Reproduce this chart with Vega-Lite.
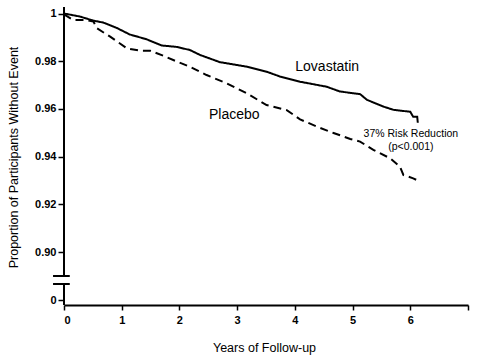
{
  "$schema": "https://vega.github.io/schema/vega-lite/v6.json",
  "width": 404,
  "height": 298,
  "autosize": "none",
  "padding": {"left": 64, "top": 7, "right": 12, "bottom": 56},
  "background": "white",
  "config": {
    "view": {"stroke": null},
    "font": "Liberation Sans",
    "axis": {"grid": false, "domainColor": "black", "tickColor": "black", "labelColor": "black", "titleColor": "black"}
  },
  "data": {"values": [{}]},
  "datasets": {
    "km": [
      {"group": "Lovastatin", "t": 0, "v": 1.0},
      {"group": "Lovastatin", "t": 0.28, "v": 0.9987},
      {"group": "Lovastatin", "t": 0.51, "v": 0.997},
      {"group": "Lovastatin", "t": 0.68, "v": 0.9962},
      {"group": "Lovastatin", "t": 0.91, "v": 0.994},
      {"group": "Lovastatin", "t": 1.14, "v": 0.9912},
      {"group": "Lovastatin", "t": 1.43, "v": 0.9892},
      {"group": "Lovastatin", "t": 1.69, "v": 0.9866},
      {"group": "Lovastatin", "t": 1.95, "v": 0.986},
      {"group": "Lovastatin", "t": 2.18, "v": 0.9847},
      {"group": "Lovastatin", "t": 2.36, "v": 0.9826},
      {"group": "Lovastatin", "t": 2.7, "v": 0.9796},
      {"group": "Lovastatin", "t": 3.17, "v": 0.9777},
      {"group": "Lovastatin", "t": 3.51, "v": 0.9756},
      {"group": "Lovastatin", "t": 3.74, "v": 0.9736},
      {"group": "Lovastatin", "t": 4.09, "v": 0.9714},
      {"group": "Lovastatin", "t": 4.55, "v": 0.9693},
      {"group": "Lovastatin", "t": 4.78, "v": 0.9673},
      {"group": "Lovastatin", "t": 5.13, "v": 0.9662},
      {"group": "Lovastatin", "t": 5.25, "v": 0.9638},
      {"group": "Lovastatin", "t": 5.53, "v": 0.961},
      {"group": "Lovastatin", "t": 5.71, "v": 0.9596},
      {"group": "Lovastatin", "t": 6.0, "v": 0.9588},
      {"group": "Lovastatin", "t": 6.05, "v": 0.9567},
      {"group": "Lovastatin", "t": 6.12, "v": 0.9567},
      {"group": "Lovastatin", "t": 6.13, "v": 0.9542},
      {"group": "Placebo", "t": 0, "v": 0.9996},
      {"group": "Placebo", "t": 0.16, "v": 0.9973},
      {"group": "Placebo", "t": 0.39, "v": 0.9973},
      {"group": "Placebo", "t": 0.51, "v": 0.9966},
      {"group": "Placebo", "t": 0.57, "v": 0.9938},
      {"group": "Placebo", "t": 0.8, "v": 0.9903},
      {"group": "Placebo", "t": 1.09, "v": 0.9854},
      {"group": "Placebo", "t": 1.32, "v": 0.9844},
      {"group": "Placebo", "t": 1.49, "v": 0.9844},
      {"group": "Placebo", "t": 1.72, "v": 0.9823},
      {"group": "Placebo", "t": 1.96, "v": 0.9798},
      {"group": "Placebo", "t": 2.18, "v": 0.9777},
      {"group": "Placebo", "t": 2.47, "v": 0.9742},
      {"group": "Placebo", "t": 2.82, "v": 0.9707},
      {"group": "Placebo", "t": 3.17, "v": 0.9665},
      {"group": "Placebo", "t": 3.51, "v": 0.9616},
      {"group": "Placebo", "t": 3.86, "v": 0.9595},
      {"group": "Placebo", "t": 4.09, "v": 0.9556},
      {"group": "Placebo", "t": 4.44, "v": 0.952},
      {"group": "Placebo", "t": 4.67, "v": 0.9499},
      {"group": "Placebo", "t": 4.96, "v": 0.9474},
      {"group": "Placebo", "t": 5.13, "v": 0.9463},
      {"group": "Placebo", "t": 5.36, "v": 0.9428},
      {"group": "Placebo", "t": 5.65, "v": 0.9393},
      {"group": "Placebo", "t": 5.82, "v": 0.9358},
      {"group": "Placebo", "t": 5.88, "v": 0.9323},
      {"group": "Placebo", "t": 6.05, "v": 0.9309},
      {"group": "Placebo", "t": 6.11, "v": 0.9302}
    ]
  },
  "layer": [
    {
      "data": {"name": "km"},
      "mark": {"type": "line", "color": "black", "strokeWidth": 2},
      "encoding": {
        "x": {
          "field": "t", "type": "quantitative",
          "scale": {"domain": [0, 7], "nice": false, "zero": false},
          "axis": {
            "values": [0, 1, 2, 3, 4, 5, 6, 7],
            "format": "d",
            "labelExpr": "datum.value == 7 ? '' : datum.label",
            "title": "Years of Follow-up",
            "titleFontSize": 12.5, "titleFontWeight": "normal",
            "titleX": 200, "titleY": 42, "titleBaseline": "middle",
            "labelFontSize": 11, "labelFontWeight": "bold", "labelPadding": 4,
            "tickSize": 5, "tickWidth": 1.5, "domainWidth": 2
          }
        },
        "y": {
          "field": "v", "type": "quantitative",
          "scale": {"domain": [0, 0.9, 1], "range": [293, 245, 6.5], "nice": false, "zero": false},
          "axis": {
            "values": [0, 0.9, 0.92, 0.94, 0.96, 0.98, 1],
            "labelExpr": "datum.value == 1 ? '1' : datum.value == 0 ? '0' : format(datum.value, '.2f')",
            "domain": false,
            "title": "Proportion of Participants Without Event",
            "titleFontSize": 12.5, "titleFontWeight": "normal",
            "titleAngle": -90, "titleX": -51, "titleY": 150, "titleAlign": "center", "titleBaseline": "middle",
            "labelFontSize": 11, "labelFontWeight": "bold", "labelPadding": 2,
            "tickSize": 6, "tickWidth": 1.5
          }
        },
        "detail": {"field": "group"},
        "strokeDash": {
          "field": "group", "type": "nominal",
          "scale": {"domain": ["Lovastatin", "Placebo"], "range": [[1, 0], [8, 5]]},
          "legend": null
        }
      }
    },
    {
      "mark": {"type": "rule", "color": "black", "strokeWidth": 2},
      "encoding": {"x": {"datum": 0}, "y": {"datum": 1.0027}, "y2": {"datum": 0.45}}
    },
    {
      "mark": {"type": "rule", "color": "black", "strokeWidth": 2},
      "encoding": {"x": {"datum": 0}, "y": {"datum": 0.3}, "y2": {"datum": -0.094}}
    },
    {
      "mark": {"type": "rule", "color": "black", "strokeWidth": 2},
      "encoding": {"x": {"datum": -0.19}, "x2": {"datum": 0.1}, "y": {"datum": 0.45}}
    },
    {
      "mark": {"type": "rule", "color": "black", "strokeWidth": 2},
      "encoding": {"x": {"datum": -0.19}, "x2": {"datum": 0.1}, "y": {"datum": 0.3}}
    },
    {
      "mark": {"type": "text", "fontSize": 14, "color": "black", "align": "center", "baseline": "middle"},
      "encoding": {"x": {"datum": 4.56}, "y": {"datum": 0.9777}, "text": {"value": "Lovastatin"}}
    },
    {
      "mark": {"type": "text", "fontSize": 14, "color": "black", "align": "center", "baseline": "middle"},
      "encoding": {"x": {"datum": 2.95}, "y": {"datum": 0.9574}, "text": {"value": "Placebo"}}
    },
    {
      "mark": {"type": "text", "fontSize": 10.5, "color": "black", "align": "center", "baseline": "middle"},
      "encoding": {"x": {"datum": 6.01}, "y": {"datum": 0.9495}, "text": {"value": "37% Risk Reduction"}}
    },
    {
      "mark": {"type": "text", "fontSize": 10.5, "color": "black", "align": "center", "baseline": "middle"},
      "encoding": {"x": {"datum": 6.01}, "y": {"datum": 0.9441}, "text": {"value": "(p<0.001)"}}
    }
  ]
}
